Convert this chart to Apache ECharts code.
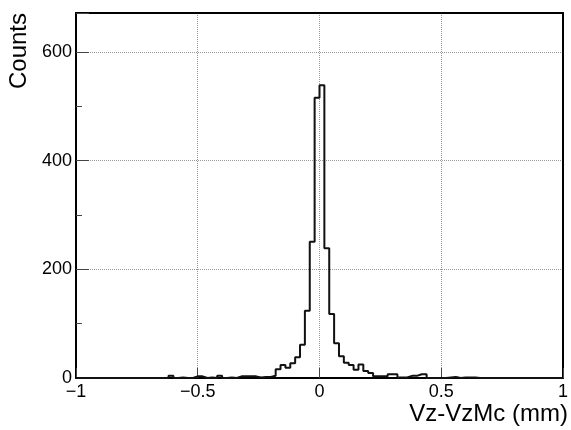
<!DOCTYPE html>
<html>
	<head>
		<meta charset="UTF-8">
		<title>Vz-VzMc</title>
	</head>
	<body style="margin:0">
		<div id="main" style="width:571px;height:430px"></div>
	</body>
</html>
<script src="https://cdn.jsdelivr.net/npm/echarts@6/dist/echarts.min.js"></script>
<script type="text/javascript">
	var myCharts = echarts.init(document.querySelector("#main"))

	// histogram binning: 100 bins from -1 to 1
	var xMin = -1;
	var binWidth = 0.02;
	// bin contents
	var counts = [
		0, 0, 0, 0, 0, 0, 0, 0, 0, 0,
		0, 0, 0, 0, 0, 0, 0, 0, 0, 4,
		0, 1, 0, 0, 3, 3, 0, 1, 0, 4,
		0, 1, 0, 3, 3, 3, 3, 1, 2, 2,
		4, 16, 24, 19, 27, 38, 61, 124, 251, 516,
		539, 239, 118, 64, 40, 28, 24, 15, 25, 13,
		9, 3, 3, 3, 7, 7, 1, 1, 4, 4,
		7, 7, 0, 0, 0, 0, 1, 2, 0, 1,
		1, 1, 0, 0, 0, 0, 0, 0, 0, 0,
		0, 0, 0, 0, 0, 0, 0, 0, 0, 0
	];
	var xTitle = 'Vz-VzMc (mm)';
	var yTitle = 'Counts';

	// step outline: one point per lower edge + final upper edge
	var steps = [];
	for(var i = 0; i < counts.length; i++) {
		steps.push([+(xMin + binWidth * i).toFixed(4), counts[i]]);
	}
	steps.push([+(xMin + binWidth * counts.length).toFixed(4), counts[counts.length - 1]]);

	var font = 'Liberation Sans, Arial, Helvetica, sans-serif';
	var frameLine = { onZero: false, lineStyle: { color: '#000', width: 2 } };

	option = {
		animation: false,
		backgroundColor: '#fff',
		grid: {
			left: 76,
			right: 2,
			top: 13,
			bottom: 52
		},
		graphic: [{
			type: 'text',
			left: 7,
			top: 13,
			rotation: Math.PI / 2,
			style: {
				text: yTitle,
				font: '24px ' + font,
				fill: '#000'
			}
		}, {
			type: 'text',
			right: 3,
			top: 402,
			style: {
				text: xTitle,
				font: '24px ' + font,
				fill: '#000'
			}
		}],
		xAxis: [{
			type: 'value',
			min: -1,
			max: 1,
			interval: 0.5,
			axisLine: frameLine,
			axisTick: { inside: true, length: 10, lineStyle: { color: '#444' } },
			minorTick: { show: false },
			axisLabel: {
				margin: 5,
				color: '#000',
				fontSize: 18,
				fontFamily: font,
				showMinLabel: true,
				showMaxLabel: true,
				formatter: function(v) {
					return String(v).replace('-', '\u2212');
				}
			},
			splitLine: { show: true, lineStyle: { color: '#999', type: 'dotted', width: 1 } }
		}, {
			// top side of the frame
			type: 'value',
			position: 'top',
			min: -1,
			max: 1,
			axisLine: frameLine,
			axisTick: { show: false },
			axisLabel: { show: false },
			splitLine: { show: false }
		}],
		yAxis: [{
			type: 'value',
			min: 0,
			max: 672,
			interval: 200,
			axisLine: { show: true, onZero: false, lineStyle: { color: '#000', width: 2 } },
			axisTick: { show: true, inside: true, length: 13, lineStyle: { color: '#444' } },
			minorTick: { show: true, splitNumber: 2, length: 6, lineStyle: { color: '#444' } },
			axisLabel: {
				margin: 4,
				color: '#000',
				fontSize: 18,
				fontFamily: font,
				showMaxLabel: false
			},
			splitLine: { show: true, lineStyle: { color: '#999', type: 'dotted', width: 1 } }
		}, {
			// right side of the frame
			type: 'value',
			position: 'right',
			min: 0,
			max: 672,
			axisLine: { show: true, onZero: false, lineStyle: { color: '#000', width: 2 } },
			axisTick: { show: false },
			axisLabel: { show: false },
			splitLine: { show: false }
		}],
		series: [{
			type: 'line',
			step: 'end',
			showSymbol: false,
			clip: true,
			lineStyle: { color: '#111', width: 2 },
			data: steps
		}]
	};

	myCharts.setOption(option)
</script>
